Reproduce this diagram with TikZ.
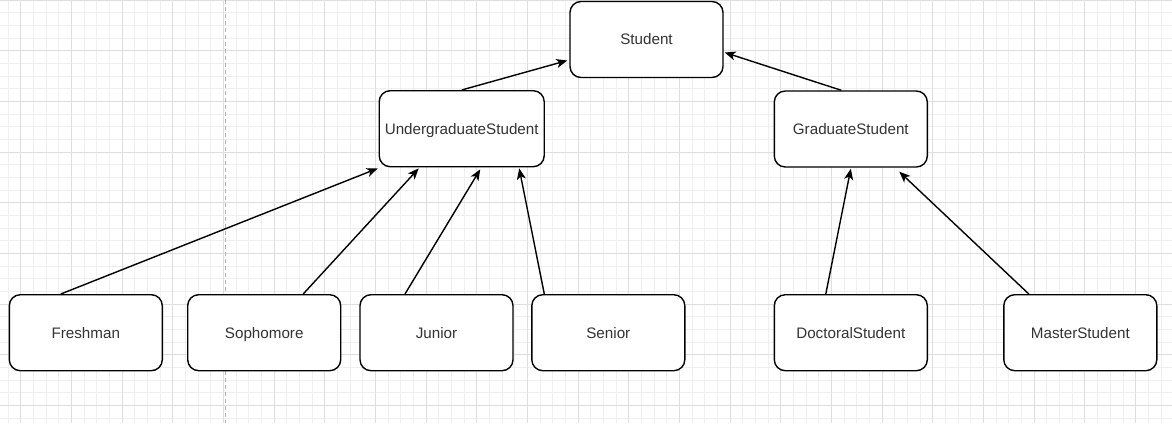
\documentclass[tikz,border=0pt]{standalone}
\usepackage{fontspec}
\setmainfont{Liberation Sans}
\usetikzlibrary{arrows.meta}

\definecolor{minorgrid}{HTML}{EFEFEF}
\definecolor{majorgrid}{HTML}{DEDEDE}
\definecolor{labelgray}{HTML}{333333}

\tikzset{
    classbox/.style={
        draw=black, fill=white, line width=1.4pt, rounded corners=11pt,
        minimum width=153pt, minimum height=76pt, inner sep=0pt,
        text height=10.9pt, text depth=0pt,
        text=labelgray, font=\fontsize{15.2}{18}\selectfont,
    },
    inherit/.style={
        line width=1.4pt,
        -{Stealth[length=11pt,width=9pt,inset=3pt]},
    },
}

\begin{document}
\begin{tikzpicture}[x=1pt,y=-1pt]
  \fill[white] (0,0) rectangle (1172,423);
  \useasboundingbox (0,0) rectangle (1172,423);

  % Grid
  \foreach \i in {-1,...,90}
    \draw[minorgrid, line width=1pt] ({20.7+12.67*\i},0) -- ++(0,423);
  \foreach \j in {0,...,33}
    \draw[minorgrid, line width=1pt] (0,{12.67*\j}) -- ++(1172,0);
  \foreach \i in {0,...,22}
    \draw[majorgrid, line width=1pt] ({20.7+50.68*\i},0) -- ++(0,423);
  \foreach \j in {0,...,8}
    \draw[majorgrid, line width=1pt] (0,{50.68*\j}) -- ++(1172,0);

  % Page break
  \draw[black!30, line width=1.5pt, dash pattern=on 4pt off 3pt] (225.7,0) -- (225.7,423);

  % Classes
  \node[classbox] (student) at (646.5,39.5) {Student};
  \node[classbox, minimum width=165pt] (ugrad) at (461.7,128.7) {UndergraduateStudent};
  \node[classbox] (grad) at (850.8,129) {GraduateStudent};

  \node[classbox] (fresh) at (85.8,332.7) {Freshman};
  \node[classbox] (soph) at (264.2,332.7) {Sophomore};
  \node[classbox] (junior) at (436.5,332.7) {Junior};
  \node[classbox] (senior) at (608.3,332.7) {Senior};
  \node[classbox] (doct) at (850.8,332.7) {DoctoralStudent};
  \node[classbox] (master) at (1080.3,332.7) {MasterStudent};

  % Student <- Undergraduate / Graduate
  \draw[inherit] (ugrad.north) -- ([xshift=-2,yshift=-21]student.west);
  \draw[inherit] ([xshift=-9.5]grad.north) -- ([xshift=1,yshift=-13]student.east);

  % Undergraduate subclasses
  \draw[inherit] ([xshift=-25]fresh.north) -- ([xshift=-84,yshift=-1]ugrad.south);
  \draw[inherit] ([xshift=39]soph.north) -- ([xshift=-43,yshift=-1]ugrad.south);
  \draw[inherit] ([xshift=-31.5]junior.north) -- ([xshift=18.5,yshift=-2]ugrad.south);
  \draw[inherit] ([xshift=-64]senior.north) -- ([xshift=57.5,yshift=-1]ugrad.south);

  % Graduate subclasses
  \draw[inherit] ([xshift=-25]doct.north) -- ([xshift=0,yshift=-1]grad.south);
  \draw[inherit] ([xshift=-51.5]master.north) -- ([xshift=48.5,yshift=-4]grad.south);

\end{tikzpicture}
\end{document}
